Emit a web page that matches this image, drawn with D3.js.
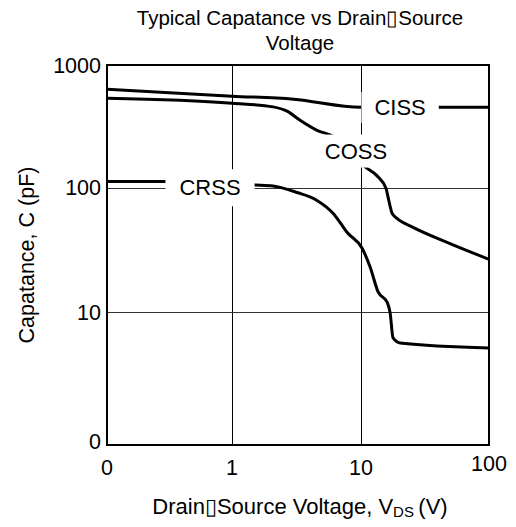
<!DOCTYPE html>
<html>
<head>
<meta charset="utf-8">
<script src="https://cdn.jsdelivr.net/npm/d3@7"></script>
<style>
  body { margin: 0; background: #fff; }
  svg { display: block; font-family: Arial, 'Liberation Sans', sans-serif; }
</style>
</head>
<body>
<svg width="516" height="527"></svg>
<script>
// axis ticks (bottom "0" stands for the lowest decade)
const xTicks = [0.1, 1, 10, 100];
const xTickLabels = ['0', '1', '10', '100'];
const yTicks = [1, 10, 100, 1000];
const yTickLabels = ['0', '10', '100', '1000'];

// [V_DS (V), capacitance (pF)]
const ciss = [[0.1, 635], [1, 557], [3, 526], [10, 452], [40, 452], [100, 452]];
const coss = [
  [0.1, 536], [1, 488], [2.08, 455], [2.67, 420], [3.37, 354], [4.56, 293],
  [6.07, 262], [10.9, 146], [13.3, 125], [15.7, 98], [16.3, 83], [17.5, 62],
  [19.1, 56.5], [25.5, 47.9], [47, 36.3], [100, 26.5]
];
const crss = [
  [0.1, 112], [0.29, 112], [1.51, 105], [2.08, 103], [3.19, 91.2], [4.56, 78.7],
  [6.07, 62], [6.87, 52.5], [7.79, 43.7], [10.2, 32.5], [11.8, 22.9], [13.6, 14.5],
  [16.0, 12.0], [16.9, 9.8], [17.8, 6.38], [20.2, 5.85], [100, 5.36]
];

const svg = d3.select('svg');
const plotLeft = 107, plotRight = 489, plotTop = 65, plotBottom = 445;

// the decades are not quite evenly spaced in the original, so piecewise log
const x = d3.scaleLog()
  .domain(xTicks)
  .range([plotLeft, 232, 361, plotRight]);
const y = d3.scaleLog()
  .domain(yTicks)
  .range([plotBottom, 312, 187.5, plotTop]);

// grid
svg.append('g')
  .selectAll('line')
  .data(xTicks.slice(1, -1))
  .join('line')
    .attr('x1', d => Math.round(x(d)) + 0.5)
    .attr('x2', d => Math.round(x(d)) + 0.5)
    .attr('y1', plotTop)
    .attr('y2', plotBottom)
    .attr('stroke', '#000')
    .attr('stroke-width', 1);

svg.append('g')
  .selectAll('line')
  .data(yTicks.slice(1, -1))
  .join('line')
    .attr('x1', plotLeft)
    .attr('x2', plotRight)
    .attr('y1', d => Math.round(y(d)) + 0.5)
    .attr('y2', d => Math.round(y(d)) + 0.5)
    .attr('stroke', '#333')
    .attr('stroke-width', 1);

// curves
const line = d3.line()
  .x(d => x(d[0]))
  .y(d => y(d[1]))
  .curve(d3.curveMonotoneX);

svg.append('g')
  .selectAll('path')
  .data([ciss, coss, crss])
  .join('path')
    .attr('d', line)
    .attr('fill', 'none')
    .attr('stroke', '#000')
    .attr('stroke-width', 3)
    .attr('stroke-linejoin', 'round');

// in-plot labels sit on white boxes that cut the curves
const labels = [
  {text: 'CISS', v: 20.2, c: 452, padX: 13, padY: 3},
  {text: 'COSS', v: 9.15, c: 199, padX: 3, padY: 4},
  {text: 'CRSS', v: 0.667, c: 100, padX: 14, padY: 6},
];
const labelG = svg.append('g');
labels.forEach((l) => {
  const g = labelG.append('g');
  const rect = g.append('rect').attr('fill', '#fff');
  const t = g.append('text')
    .attr('x', x(l.v))
    .attr('y', y(l.c))
    .attr('dy', '0.35em')
    .attr('text-anchor', 'middle')
    .attr('font-size', 22)
    .attr('fill', '#000')
    .text(l.text);
  const bb = t.node().getBBox();
  rect
    .attr('x', bb.x - l.padX)
    .attr('y', bb.y - l.padY)
    .attr('width', bb.width + 2 * l.padX)
    .attr('height', bb.height + 2 * l.padY);
});

// frame
svg.append('rect')
  .attr('x', plotLeft)
  .attr('y', plotTop)
  .attr('width', plotRight - plotLeft)
  .attr('height', plotBottom - plotTop)
  .attr('fill', 'none')
  .attr('stroke', '#000')
  .attr('stroke-width', 2);

// tick labels
svg.append('g')
  .selectAll('text')
  .data(yTicks)
  .join('text')
    .attr('x', plotLeft - 6)
    .attr('y', d => y(d))
    .attr('dy', (d, i) => i === 0 ? '0.2em' : '0.35em')
    .attr('text-anchor', 'end')
    .attr('font-size', 21.5)
    .text((d, i) => yTickLabels[i]);

svg.append('g')
  .selectAll('text')
  .data(xTicks)
  .join('text')
    .attr('x', d => x(d))
    .attr('y', (d, i) => i === xTicks.length - 1 ? 471 : 475)
    .attr('text-anchor', 'middle')
    .attr('font-size', 21.5)
    .text((d, i) => xTickLabels[i]);

// titles
const title = svg.append('text')
  .attr('text-anchor', 'middle')
  .attr('font-size', 20.5)
  .attr('fill', '#000');
title.append('tspan').attr('x', 300).attr('y', 25).text('Typical Capatance vs Drain\u25AFSource');
title.append('tspan').attr('x', 300).attr('y', 50).text('Voltage');

svg.append('text')
  .attr('transform', `translate(34, ${(plotTop + plotBottom) / 2}) rotate(-90)`)
  .attr('text-anchor', 'middle')
  .attr('font-size', 21.5)
  .text('Capatance, C (pF)');

const xTitle = svg.append('text')
  .attr('x', 300)
  .attr('y', 514)
  .attr('text-anchor', 'middle')
  .attr('font-size', 22);
xTitle.append('tspan').text('Drain\u25AFSource Voltage, V');
xTitle.append('tspan').attr('font-size', 15).attr('dy', 3).text('DS');
xTitle.append('tspan').attr('dy', -3).text('\u2009(V)');
</script>
</body>
</html>
